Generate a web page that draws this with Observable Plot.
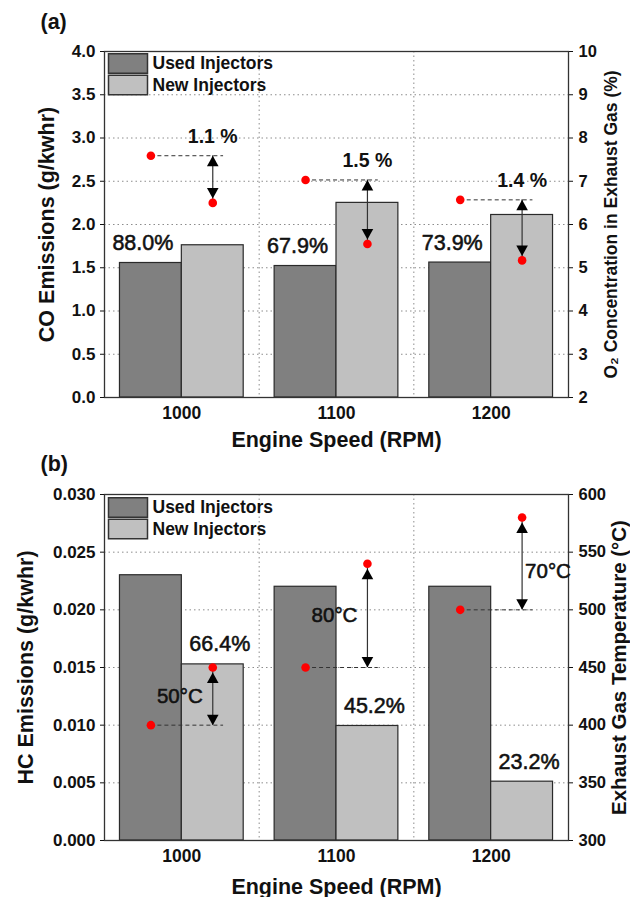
<!DOCTYPE html>
<html>
<head>
<meta charset="utf-8">
<script src="https://cdn.jsdelivr.net/npm/d3@7"></script>
<script src="https://cdn.jsdelivr.net/npm/@observablehq/plot@0.6"></script>
<style>
  html, body { margin: 0; padding: 0; background: #fff; }
  #chart { width: 630px; }
  #chart svg { display: block; }
</style>
</head>
<body>
<div id="chart"></div>
<script>
// ---------- data ----------
const rpm = [1000, 1100, 1200];
const groupNames = ["Used Injectors", "New Injectors"];

// (a) CO emissions (g/kwhr) and O2 concentration (%)
const coUsed = [1.555, 1.52, 1.56];
const coNew = [1.76, 2.25, 2.11];
const coRatio = ["88.0%", "67.9%", "73.9%"];
const o2Used = [7.59, 7.03, 6.57];
const o2New = [6.50, 5.55, 5.17];
const o2Diff = ["1.1 %", "1.5 %", "1.4 %"];
const coTicks = [0, 0.5, 1, 1.5, 2, 2.5, 3, 3.5, 4];
const o2Ticks = [2, 3, 4, 5, 6, 7, 8, 9, 10];

// (b) HC emissions (g/kwhr) and exhaust gas temperature (°C)
const hcUsed = [0.0230, 0.0220, 0.0220];
const hcNew = [0.01527, 0.00993, 0.0051];
const hcRatio = ["66.4%", "45.2%", "23.2%"];
const tempUsed = [400, 450, 500];
const tempNew = [450, 540, 580];
const tempDiff = ["50°C", "80°C", "70°C"];
const hcTicks = [0, 0.005, 0.010, 0.015, 0.020, 0.025, 0.030];
const tempTicks = [300, 350, 400, 450, 500, 550, 600];

// ---------- helpers ----------
const FONT = "'Liberation Sans', Arial, Helvetica, sans-serif";
const BAR = 40;                       // bar width in RPM units
const usedX = d => d.rpm - BAR / 2;
const newX = d => d.rpm + BAR / 2;
const dashEndX = d => d.rpm + BAR / 2 + 7;
const mids = d3.pairs(rpm).map(([a, b]) => (a + b) / 2);
const xDomain = [rpm[0] - 50, rpm[rpm.length - 1] + 50];

const tipUp = { draw(c) { c.moveTo(0, 0); c.lineTo(5.8, 10.5); c.lineTo(-5.8, 10.5); c.closePath(); } };
const tipDown = { draw(c) { c.moveTo(0, 0); c.lineTo(5.8, -10.5); c.lineTo(-5.8, -10.5); c.closePath(); } };
const swatch = { draw(c) { c.rect(-19.5, -9.75, 39, 19.5); } };

const heavy = { stroke: "#111", strokeWidth: 0.55 };

function panel(cfg) {
  const rows = rpm.map((r, i) => ({
    rpm: r,
    used: cfg.used[i],
    new: cfg.new[i],
    sUsed: cfg.toY(cfg.sUsed[i]),
    sNew: cfg.toY(cfg.sNew[i]),
    sMid: cfg.toY((cfg.sUsed[i] + cfg.sNew[i]) / 2),
    ratio: cfg.ratio[i],
    diff: cfg.diff[i],
    i
  }));
  const up = cfg.secondaryUp; // new secondary value above used value?
  const marks = [
    Plot.gridY(cfg.leftTicks, { stroke: "#8c8c8c", strokeOpacity: 1, strokeDasharray: "1.5,3" }),
    Plot.gridX(mids, { stroke: "#8c8c8c", strokeOpacity: 1, strokeDasharray: "1.5,3" }),
    Plot.rectY(rows, { x1: d => d.rpm - BAR, x2: d => d.rpm, y: "used", fill: "#808080", stroke: "#2a2a2a", strokeWidth: 1.2 }),
    Plot.rectY(rows, { x1: d => d.rpm, x2: d => d.rpm + BAR, y: "new", fill: "#c0c0c0", stroke: "#2a2a2a", strokeWidth: 1.2 }),
    Plot.frame({ stroke: "#333", strokeWidth: 1.3 }),
    // dashed reference line from the used value
    Plot.ruleY(rows, { y: "sUsed", x1: usedX, x2: dashEndX, stroke: "#333", strokeDasharray: "4,3", strokeWidth: 1 }),
    // arrow shafts
    Plot.ruleX(rows, { x: newX, y1: "sUsed", y2: "sNew", stroke: "#333", strokeWidth: 1.2 }),
    // arrow heads
    Plot.dot(rows, { x: newX, y: "sUsed", symbol: up ? tipDown : tipUp, fill: "#000", stroke: "none" }),
    Plot.dot(rows, { x: newX, y: "sNew", symbol: up ? tipUp : tipDown, dy: up ? 5 : -4.5, fill: "#000", stroke: "none" }),
    // red secondary-axis points
    Plot.dot(rows, { x: usedX, y: "sUsed", r: 4.3, fill: "#ff0000", stroke: "none" }),
    Plot.dot(rows, { x: newX, y: "sNew", r: 4.3, fill: "#ff0000", stroke: "none" }),
    // ratio labels
    Plot.text(rows, {
      x: cfg.ratioOnNew ? newX : usedX, y: cfg.ratioOnNew ? "new" : "used", text: "ratio",
      dx: cfg.ratioOnNew ? 7 : -8, dy: -13, lineAnchor: "bottom", fontSize: 21.5, fill: "#111", ...heavy
    }),
    // legend
    Plot.dot([0], { frameAnchor: "top-left", dx: 23.5, dy: 12 + cfg.legendShift, symbol: swatch, fill: "#808080", stroke: "#333", strokeWidth: 1.5 }),
    Plot.dot([0], { frameAnchor: "top-left", dx: 23.5, dy: 33.5 + cfg.legendShift, symbol: swatch, fill: "#c0c0c0", stroke: "#333", strokeWidth: 1.5 }),
    Plot.text([groupNames[0]], { frameAnchor: "top-left", dx: 48, dy: 12 + cfg.legendShift, textAnchor: "start", lineAnchor: "middle", fontSize: 17.5, fontWeight: "bold", fill: "#111" }),
    Plot.text([groupNames[1]], { frameAnchor: "top-left", dx: 48, dy: 33.5 + cfg.legendShift, textAnchor: "start", lineAnchor: "middle", fontSize: 17.5, fontWeight: "bold", fill: "#111" }),
    // axes
    Plot.axisY(cfg.leftTicks, { anchor: "left", tickSize: 4, tickPadding: 5, tickFormat: d3.format(cfg.leftFormat), label: null, fontSize: 17, fontWeight: "bold" }),
    Plot.axisY(cfg.rightTicks.map(cfg.toY), { anchor: "right", tickSize: 4, tickPadding: 6, tickFormat: v => String(Math.round(cfg.fromY(v))), label: null, fontSize: 16.5, fontWeight: "bold" }),
    Plot.axisX(rpm, { anchor: "bottom", tickSize: 0, tickPadding: 9, tickFormat: d => String(d), label: null, fontSize: 17.5, fontWeight: "bold" }),
    // axis titles and panel label
    Plot.text([cfg.leftTitle], { frameAnchor: "left", rotate: -90, dx: cfg.leftTitleDx, textAnchor: "middle", lineAnchor: "middle", fontSize: 21.5, fontWeight: "bold", fill: "#111" }),
    Plot.text([cfg.rightTitle], { frameAnchor: "right", rotate: -90, dx: cfg.rightTitleDx, textAnchor: "middle", lineAnchor: "middle", fontSize: cfg.rightTitleSize, fontWeight: "bold", fill: "#111" }),
    Plot.text(["Engine Speed (RPM)"], { frameAnchor: "bottom", dy: cfg.xTitleDy, textAnchor: "middle", lineAnchor: "bottom", fontSize: 21.5, fontWeight: "bold", fill: "#111" }),
    Plot.text([cfg.tag], { frameAnchor: "top-left", dx: -64, dy: cfg.tagDy, textAnchor: "start", lineAnchor: "bottom", fontSize: 21.5, fontWeight: "bold", fill: "#111" })
  ];
  // difference labels
  if (cfg.diffAbove) {
    marks.push(Plot.text(rows, { x: newX, y: "sUsed", text: "diff", dy: -13, lineAnchor: "bottom", fontSize: 19.5, fontWeight: "bold", fill: "#111" }));
  } else {
    const last = rows.length - 1;
    marks.push(Plot.text(rows.filter(d => d.i < last), { x: newX, y: "sMid", text: "diff", dx: -10, textAnchor: "end", lineAnchor: "middle", fontSize: 20.5, fill: "#111", ...heavy }));
    marks.push(Plot.text(rows.filter(d => d.i === last), { x: newX, y: "sMid", text: "diff", dx: 3, dy: 8, textAnchor: "start", lineAnchor: "middle", fontSize: 20.5, fill: "#111", ...heavy }));
  }
  return Plot.plot({
    width: 630,
    height: cfg.height,
    marginLeft: 104,
    marginRight: 62,
    marginTop: cfg.marginTop,
    marginBottom: cfg.marginBottom,
    x: { domain: xDomain },
    y: { domain: cfg.yDomain },
    style: { fontFamily: FONT, background: "#fff", color: "#111", overflow: "visible" },
    marks
  });
}

const chart = document.getElementById("chart");

chart.append(panel({
  tag: "(a)", tagDy: -23,
  height: 450, marginTop: 51, marginBottom: 53,
  used: coUsed, new: coNew, sUsed: o2Used, sNew: o2New,
  ratio: coRatio, diff: o2Diff,
  toY: v => (v - 2) / 2, fromY: y => y * 2 + 2,
  yDomain: [0, 4], leftTicks: coTicks, leftFormat: ".1f", rightTicks: o2Ticks,
  secondaryUp: false, ratioOnNew: false, diffAbove: true,
  leftTitle: "CO Emissions (g/kwhr)", leftTitleDx: -57,
  rightTitle: "O\u2082 Concentration in Exhaust Gas (%)", rightTitleDx: 43, rightTitleSize: 17.5,
  xTitleDy: 49, legendShift: 0
}));

chart.append(panel({
  tag: "(b)", tagDy: -24,
  height: 447, marginTop: 44, marginBottom: 57,
  used: hcUsed, new: hcNew, sUsed: tempUsed, sNew: tempNew,
  ratio: hcRatio, diff: tempDiff,
  toY: v => (v - 300) / 10000, fromY: y => y * 10000 + 300,
  yDomain: [0, 0.03], leftTicks: hcTicks, leftFormat: ".3f", rightTicks: tempTicks,
  secondaryUp: true, ratioOnNew: true, diffAbove: false,
  leftTitle: "HC Emissions (g/kwhr)", leftTitleDx: -78,
  rightTitle: "Exhaust Gas Temperature (°C)", rightTitleDx: 51, rightTitleSize: 20.5,
  xTitleDy: 53, legendShift: 1
}));
</script>
</body>
</html>
